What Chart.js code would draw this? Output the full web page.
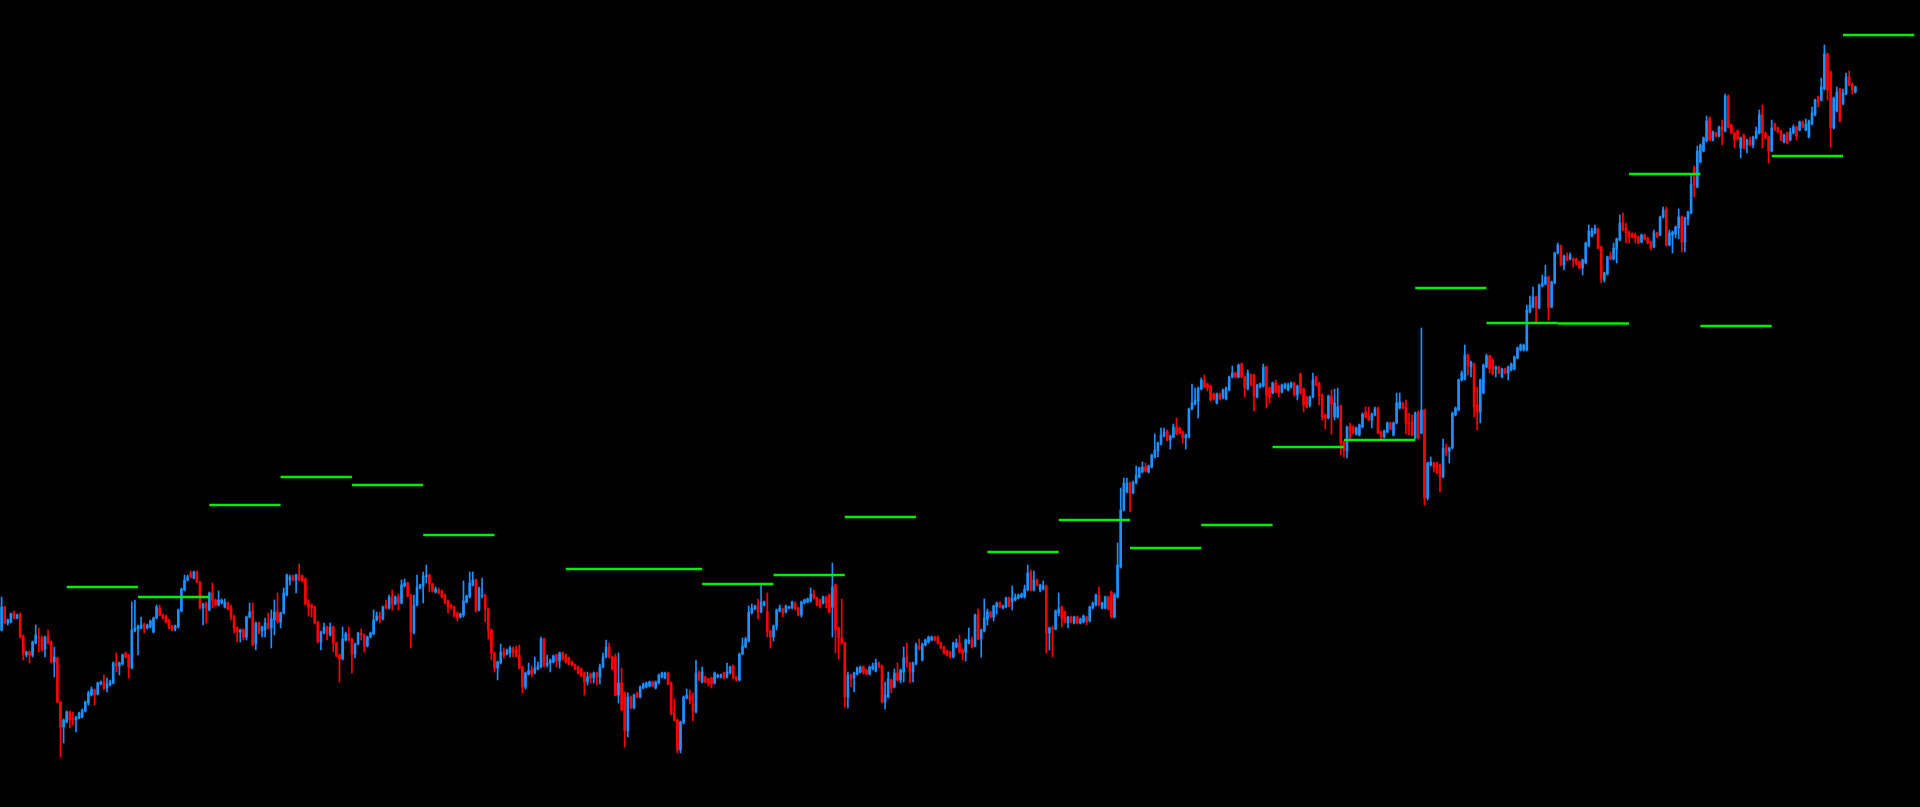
<!DOCTYPE html>
<html>
<head>
<meta charset="utf-8">
<script src="https://cdn.jsdelivr.net/npm/chart.js@4.4.1/dist/chart.umd.min.js"></script>
<style>
  html, body { margin: 0; padding: 0; background: #000; overflow: hidden; }
  #wrap { width: 1920px; height: 807px; }
</style>
</head>
<body>
<div id="wrap"><canvas id="chart"></canvas></div>
<script>
// hourly candles: [open, high, low, close]
const ohlc = [
  [177,210,176,200],[200,201,183,184],[184,188,182,187],[185,194,184,193],[194,196,188,189],[189,193,188,192],
  [193,194,169,170],[171,172,147,154],[152,156,150,155],[155,156,144,152],[152,166,150,165],[164,182,163,172],
  [170,179,155,169],[169,171,156,157],[158,171,150,170],[170,177,163,164],[165,166,144,145],[145,160,130,150],
  [149,150,104,105],[105,106,50,80],[80,88,64,87],[85,96,84,95],[95,96,79,87],[89,95,82,88],
  [87,91,75,90],[89,95,88,94],[90,98,89,97],[96,106,95,105],[104,116,102,114],[112,120,111,118],
  [117,118,102,112],[113,125,112,124],[123,126,122,125],[125,132,117,119],[119,129,115,123],[122,127,121,125],
  [124,145,123,144],[144,154,135,141],[141,145,132,144],[143,153,142,152],[154,155,149,150],[152,153,129,140],
  [139,205,138,177],[176,207,175,179],[178,182,152,181],[179,190,178,182],[183,184,174,179],[179,183,178,182],
  [180,187,179,186],[175,190,174,189],[189,202,188,200],[199,202,191,192],[192,193,188,189],[191,192,184,185],
  [187,188,178,179],[181,182,176,177],[178,182,176,181],[180,198,179,197],[196,219,195,218],[217,232,216,227],
  [227,232,226,230],[234,236,229,230],[229,236,228,235],[235,236,224,225],[225,226,198,199],[199,204,182,203],
  [204,205,184,199],[197,215,196,214],
  [214,224,199,207],[207,208,201,202],[202,216,201,207],[204,208,203,207],[200,208,199,205],[204,205,197,198],
  [199,202,187,190],[190,192,174,179],[179,180,165,175],[175,178,165,177],[177,178,167,170],[170,191,167,190],
  [190,204,189,195],[196,204,161,162],[163,185,157,184],[184,185,173,174],[176,181,170,180],[177,189,170,184],
  [184,194,178,179],[179,197,159,188],[187,207,172,195],[195,214,184,185],[185,195,179,194],[194,219,193,214],
  [212,233,211,232],[227,232,222,230],[231,232,226,227],[227,233,214,232],[232,243,226,227],[231,232,225,226],
  [228,229,202,203],[204,207,191,200],[202,203,190,199],[200,201,183,184],[185,186,164,165],[165,176,157,175],
  [174,184,173,180],[180,181,167,173],[172,184,171,180],[180,181,155,164],[164,165,150,151],[152,153,125,148],
  [148,180,147,168],[167,175,166,173],[173,180,166,167],[168,169,134,153],[153,164,149,163],[163,175,162,174],
  [174,178,167,172],[172,173,155,161],[161,171,160,170],[170,175,169,174],[173,197,172,187],[187,195,186,191],
  [191,195,184,188],[188,201,187,200],[202,207,198,199],[199,212,198,210],[210,217,197,203],[203,211,202,210],
  [210,213,197,204],[204,227,203,222],[221,228,220,224],[224,225,210,211],[212,213,159,175],[174,212,173,202],
  [202,232,201,220],[219,223,218,222],
  [221,235,204,231],[230,242,224,232],[232,233,215,223],[223,224,215,216],[215,220,214,218],[217,219,213,214],
  [216,217,209,210],[212,213,203,204],[206,207,194,200],[202,203,198,199],[200,201,190,191],[194,195,186,189],
  [190,194,189,193],[192,226,190,206],[205,212,204,211],[210,235,209,224],[222,235,221,227],[227,228,195,196],
  [197,220,196,219],[211,229,209,212],[212,213,185,198],[198,199,168,177],[177,178,147,154],[154,155,135,139],
  [139,146,127,145],[144,163,143,155],[155,159,149,152],[153,158,152,157],[154,161,150,159],[159,160,150,154],
  [157,161,150,151],[152,162,138,139],[140,141,114,120],[120,135,118,134],[133,144,132,136],[137,141,130,133],
  [134,150,133,139],[138,145,137,141],[140,170,139,168],[168,169,140,141],[142,152,140,144],[144,148,135,147],
  [145,152,144,151],[152,153,140,146],[146,155,139,154],[154,155,147,148],[152,153,144,145],[149,150,142,143],
  [145,146,141,142],[142,143,137,138],[140,141,133,134],[138,139,130,131],[134,135,112,125],[125,135,122,130],
  [133,134,124,129],[129,135,124,134],[134,135,122,130],[130,143,123,140],[140,154,139,150],[150,167,149,160],
  [160,164,149,150],[150,151,137,138],[150,153,111,112],[112,154,104,124],[124,139,96,97],[114,115,60,76],
  [76,114,70,110],
  [110,111,98,99],[99,113,98,112],[114,115,109,110],[110,121,109,120],[119,124,118,123],[120,125,119,124],
  [121,126,120,125],[125,126,120,121],[119,126,118,125],[124,133,123,132],[130,135,129,134],[129,135,128,134],
  [134,135,122,123],[124,125,92,93],[94,108,86,87],[87,88,54,57],[57,86,54,85],[84,111,83,110],
  [109,118,108,112],[112,117,103,107],[103,114,86,96],[95,147,94,134],[135,136,126,127],[125,140,124,135],
  [130,131,124,125],[128,129,121,124],[129,130,119,123],[124,135,123,134],[130,133,129,132],[130,133,129,132],
  [134,135,128,129],[130,144,129,135],[134,141,133,140],[141,142,128,129],[130,131,126,127],[127,154,126,153],
  [153,169,152,161],[160,170,159,168],[166,201,165,195],[194,203,193,199],[198,202,197,201],[201,208,188,195],
  [195,224,194,205],[202,206,201,205],[195,214,170,175],[176,177,159,170],[170,182,166,181],[181,198,177,197],
  [196,202,195,199],[198,199,190,194],[195,202,194,201],[199,201,198,200],[199,206,198,205],[204,205,197,198],
  [199,200,191,192],[192,206,190,205],[204,208,203,207],[205,209,204,208],[206,219,205,213],[213,217,208,209],
  [209,210,201,202],[207,208,199,201],[204,211,203,210],[210,211,199,204],[212,213,194,195],[200,244,170,220],
  [222,223,154,177],[179,180,148,169],
  [169,208,163,164],[164,165,100,110],[110,135,99,132],[132,133,120,128],[129,135,115,134],[133,140,132,139],
  [135,141,134,140],[140,141,133,134],[137,138,132,133],[133,141,132,140],[138,144,137,141],[136,148,135,144],
  [144,145,139,140],[141,142,104,105],[105,125,98,112],[110,135,109,128],[127,128,114,119],[120,138,119,134],
  [134,144,126,127],[127,138,124,137],[135,160,125,149],[150,164,140,144],[144,145,124,135],[135,145,125,144],
  [143,164,142,162],[161,168,157,158],[147,164,146,163],[162,168,161,167],[165,171,164,170],[167,171,166,170],
  [170,171,166,167],[170,171,163,164],[164,165,158,159],[160,161,153,154],[156,157,151,152],[155,156,149,150],
  [150,165,149,164],[160,168,159,164],[164,172,154,155],[157,158,147,153],[155,168,146,167],[164,179,163,167],
  [167,170,159,160],[161,193,160,192],[192,198,167,168],[168,178,150,177],[176,208,175,189],[188,198,182,195],
  [195,196,189,190],[190,202,186,201],[200,205,193,204],[204,205,199,200],[199,202,198,201],[200,210,199,209],
  [209,210,200,201],[205,221,197,209],[207,213,206,210],[209,213,208,212],[210,214,209,213],[210,222,209,218],
  [217,242,216,234],[235,237,216,217],[217,236,216,227],[227,228,221,222],[217,223,215,222],[218,226,217,221],
  [221,222,154,174],[174,180,157,179],
  [179,181,150,178],[178,197,177,196],[194,214,191,198],[200,201,180,189],[195,196,184,185],[184,191,179,190],
  [190,191,184,185],[184,191,183,190],[190,191,183,184],[184,189,183,188],[185,192,184,191],[190,191,182,185],
  [186,201,185,200],[199,205,198,204],[202,213,201,212],[212,220,201,202],[199,205,198,204],[199,211,198,210],
  [210,211,197,198],[215,216,189,190],[190,214,189,212],[210,264,209,242],[240,319,239,297],[297,329,296,324],
  [315,329,314,324],[324,325,295,314],[314,326,313,325],[324,341,323,332],[330,340,329,339],[335,345,334,340],
  [340,344,335,336],[335,342,334,341],[340,353,339,352],[350,373,349,357],[356,365,350,364],[363,379,362,372],
  [371,379,370,375],[376,377,366,367],[367,372,358,371],[370,383,369,380],[380,389,372,373],[379,380,373,374],
  [375,376,364,369],[369,373,358,372],[370,399,369,398],[398,423,397,404],[403,419,402,407],[406,420,389,419],
  [418,429,417,427],[426,432,419,420],[423,424,416,419],[421,422,406,407],[413,414,407,408],[404,414,403,413],
  [413,414,407,408],[409,418,408,417],[408,420,407,419],[417,431,416,430],[430,441,429,434],[434,435,429,430],
  [430,443,429,442],[443,444,429,430],[430,431,410,419],[418,437,417,434],[432,433,421,422],[432,433,396,411],
  [410,423,409,422],[420,424,419,423],
  [421,443,420,440],[440,441,399,412],[419,420,404,410],[414,425,413,424],[424,427,414,415],[421,422,410,414],
  [415,423,414,422],[419,424,418,423],[417,424,416,422],[420,425,419,424],[424,425,411,412],[412,422,407,421],
  [433,434,413,414],[418,419,395,402],[410,411,399,400],[402,411,400,410],[410,434,409,427],[430,431,421,422],
  [424,425,402,411],[412,413,387,390],[392,393,378,389],[389,412,388,411],[411,417,373,403],[390,418,387,404],
  [390,419,389,400],[401,402,352,364],[365,366,350,357],[356,381,349,380],[381,384,368,377],[380,381,373,374],
  [373,380,372,379],[372,383,371,382],[380,394,379,393],[395,400,389,390],[391,400,386,387],[387,394,379,393],
  [392,400,391,398],[399,400,373,374],[375,376,367,370],[370,377,369,376],[375,385,374,384],[384,385,377,378],
  [372,385,371,384],[384,414,383,404],[399,414,398,405],[404,405,398,399],[400,407,373,384],[384,394,372,383],
  [385,392,371,372],[369,395,368,394],[395,396,368,369],[374,479,373,397],[397,398,302,309],[309,345,307,344],
  [342,350,341,345],[344,345,335,340],[344,345,333,334],[342,343,315,330],[330,368,329,359],[359,363,351,354],
  [356,360,344,359],[359,395,358,394],[392,400,391,399],[397,428,396,427],[427,436,426,434],[428,462,427,452],
  [452,453,432,441],
  [440,446,430,445],[443,444,390,400],[402,420,377,395],[395,428,384,427],[414,443,413,442],[440,453,439,451],
  [451,452,434,438],[447,448,432,433],[438,441,430,440],[440,441,433,434],[430,439,429,438],[438,439,433,434],
  [434,441,427,440],[437,444,436,443],[438,451,437,450],[449,460,448,459],[457,463,456,462],[457,463,456,462],
  [457,502,456,497],[495,511,494,502],[500,520,499,510],[510,511,485,499],[499,523,498,522],[521,532,520,524],
  [523,542,522,530],[530,531,487,499],[500,526,499,525],[524,555,523,554],[554,564,553,562],[561,562,541,542],
  [542,552,537,551],[551,554,546,547],[548,554,547,552],[548,549,540,546],[548,549,542,543],[545,546,538,539],
  [539,548,532,547],[544,565,543,564],[561,582,560,576],[571,579,570,576],[574,582,573,579],[578,579,558,559],
  [560,561,524,528],[527,535,525,534],[533,551,532,550],[551,555,547,548],[548,564,547,559],[558,569,544,568],
  [567,592,566,584],[584,594,576,577],[579,584,564,574],[575,576,564,570],[573,574,569,570],[572,574,564,569],
  [570,571,563,564],[565,573,564,572],[572,573,567,568],[569,570,563,564],[565,566,557,559],[560,577,559,574],
  [574,575,569,570],[572,591,571,590],[590,600,589,597],[597,600,561,562],[562,577,561,574],[572,576,554,575],
  [573,581,569,580],[579,598,568,590],[590,591,555,565],[565,590,555,589],[588,596,582,595],[594,632,593,623],
  [639,641,610,622],[620,661,619,656],[645,663,644,662],[656,670,655,669],[666,691,665,686],[689,690,666,667],
  [667,676,666,675],[674,675,670,671],[671,681,670,680],[680,687,662,677],[676,713,675,711],[711,712,679,680],
  [682,683,673,674],[674,675,659,667],[676,677,667,668],[659,670,649,669],[672,673,658,659],[662,668,654,667],
  [667,670,661,662],[662,671,659,670],[669,680,668,676],[674,697,673,692],[692,702,659,674],[674,675,668,669],
  [670,671,644,656],[656,687,655,679],[683,684,676,677],[679,680,674,675],[676,677,666,667],[665,673,664,672],
  [674,675,663,664],[667,679,666,675],[674,682,673,680],[680,681,667,671],[677,686,676,685],[685,686,679,680],
  [677,688,676,683],[670,687,669,686],[683,700,682,694],[692,708,691,707],[710,711,700,705],[707,729,706,720],
  [718,762,717,753],[753,754,707,717],[735,736,660,679],[679,710,678,709],[696,720,695,715],[718,719,685,686],
  [703,718,702,714],[713,734,712,730],[730,736,721,722],[723,724,713,717],[715,721,714,720]
];

// daily level segments: candle index from / to, and level
const levelStart = [21, 44, 67, 90, 113, 136, 182, 226, 249, 272, 318, 341, 364, 387, 410, 433, 456, 479, 502, 525, 548, 571, 594];
const levelEnd   = [44, 67, 90, 113, 136, 159, 226, 249, 272, 295, 341, 364, 387, 410, 433, 456, 479, 502, 525, 548, 571, 594, 617];
const levelValue = [220, 210, 302, 330, 322, 272, 238, 223, 232, 290, 255, 287, 259, 282, 360, 367, 519, 484, 483.5, 633, 481, 651, 772];

const upColor = '#1e90ff';
const downColor = '#ff0000';
const levelColor = '#00ee00';

const candleColors = ohlc.map(c => (c[3] >= c[0] ? upColor : downColor));
const wicks = ohlc.map((c, i) => ({ x: i, y: [c[2], c[1]] }));
const bodies = ohlc.map((c, i) => ({ x: i, y: [c[0], c[3]] }));

const levelSets = levelStart.map((s, k) => ({
  type: 'line',
  data: [{ x: s, y: levelValue[k] }, { x: levelEnd[k], y: levelValue[k] }],
  borderColor: levelColor,
  borderWidth: 2.5,
  pointRadius: 0,
  fill: false,
  order: 0
}));

const ctx = document.getElementById('chart').getContext('2d');
new Chart(ctx, {
  type: 'bar',
  data: {
    datasets: [
      ...levelSets,
      {
        data: wicks,
        backgroundColor: candleColors,
        barThickness: 1,
        grouped: false,
        order: 2
      },
      {
        data: bodies,
        backgroundColor: candleColors,
        barThickness: 2,
        minBarLength: 1,
        grouped: false,
        order: 1
      }
    ]
  },
  options: {
    responsive: true,
    maintainAspectRatio: false,
    animation: false,
    layout: { padding: 0 },
    scales: {
      x: { type: 'linear', min: -0.516, max: 618.84, offset: false, display: false },
      y: { min: 0, max: 807, display: false }
    },
    plugins: {
      legend: { display: false },
      tooltip: { enabled: false }
    }
  }
});
</script>
</body>
</html>
